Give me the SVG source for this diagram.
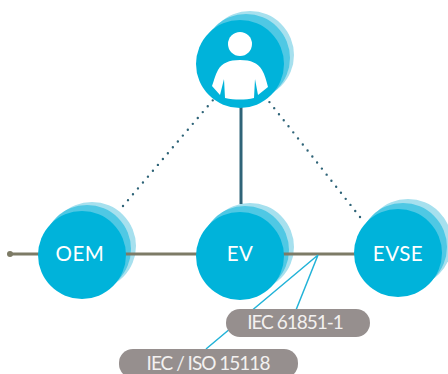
<svg xmlns="http://www.w3.org/2000/svg" width="448" height="374" viewBox="0 0 448 374">
<style>
.c1{fill:#00b3da}.c2{fill:#4fc8e4}.c3{fill:#a6e0ee}
.lbl{font-family:"Lato","Open Sans",sans-serif;fill:#fff;text-anchor:middle}
.node{font-size:20.5px;letter-spacing:.5px}
.tag{font-size:19px;letter-spacing:-1px;fill:#f3f1f0}
.pill{fill:#968f8e}
</style>
<rect width="448" height="374" fill="#fff"/>
<g id="halos">
<circle class="c3" cx="250" cy="55" r="44"/><circle class="c2" cx="246" cy="58" r="44"/>
<circle class="c3" cx="92" cy="246" r="44"/><circle class="c2" cx="87" cy="249" r="44"/>
<circle class="c3" cx="250" cy="247" r="44"/><circle class="c2" cx="245" cy="250" r="44"/>
<circle class="c3" cx="408" cy="243" r="44"/><circle class="c2" cx="403" cy="247" r="44"/>
</g>
<g id="connectors" fill="none">
<path d="M10 254H360" stroke="#7d7b66" stroke-width="3"/>
<circle cx="10" cy="254" r="3" fill="#7d7b66"/>
<path d="M241 100V204" stroke="#2f6478" stroke-width="3"/>
<path d="M123 206L219 93M360 217L267 99" stroke="#2f6478" stroke-width="2.4" stroke-linecap="round" stroke-dasharray="0 7.7"/>
<path d="M318 255L206 349M318 255L296 310" stroke="#22b3d8" stroke-width="1.5"/>
</g>
<g id="user">
<circle class="c1" cx="240" cy="64" r="44"/>
<circle cx="240" cy="44" r="12" fill="#fff"/>
<path d="M240 60C229 60 222 63 218 70C215 75 214 81 212 86L220 95L224 79L225 98C235 100 245 100 254 98L255 79L258 95L268 87C266 80 265 75 262 70C258 63 251 60 240 60Z" fill="#fff"/>
</g>
<g id="oem">
<circle class="c1" cx="82" cy="255" r="44"/>
<text class="lbl node" x="80" y="261">OEM</text>
</g>
<g id="ev">
<circle class="c1" cx="240" cy="256" r="44"/>
<text class="lbl node" x="240" y="261">EV</text>
</g>
<g id="evse">
<circle class="c1" cx="398" cy="253" r="44"/>
<text class="lbl node" x="398" y="261">EVSE</text>
</g>
<g id="iec61851">
<rect class="pill" x="226" y="309" width="144" height="28" rx="14"/>
<text class="lbl tag" x="295" y="329">IEC 61851-1</text>
</g>
<g id="iec15118">
<rect class="pill" x="119" y="349" width="179" height="29" rx="14"/>
<text class="lbl tag" x="208" y="370">IEC / ISO 15118</text>
</g>
</svg>
